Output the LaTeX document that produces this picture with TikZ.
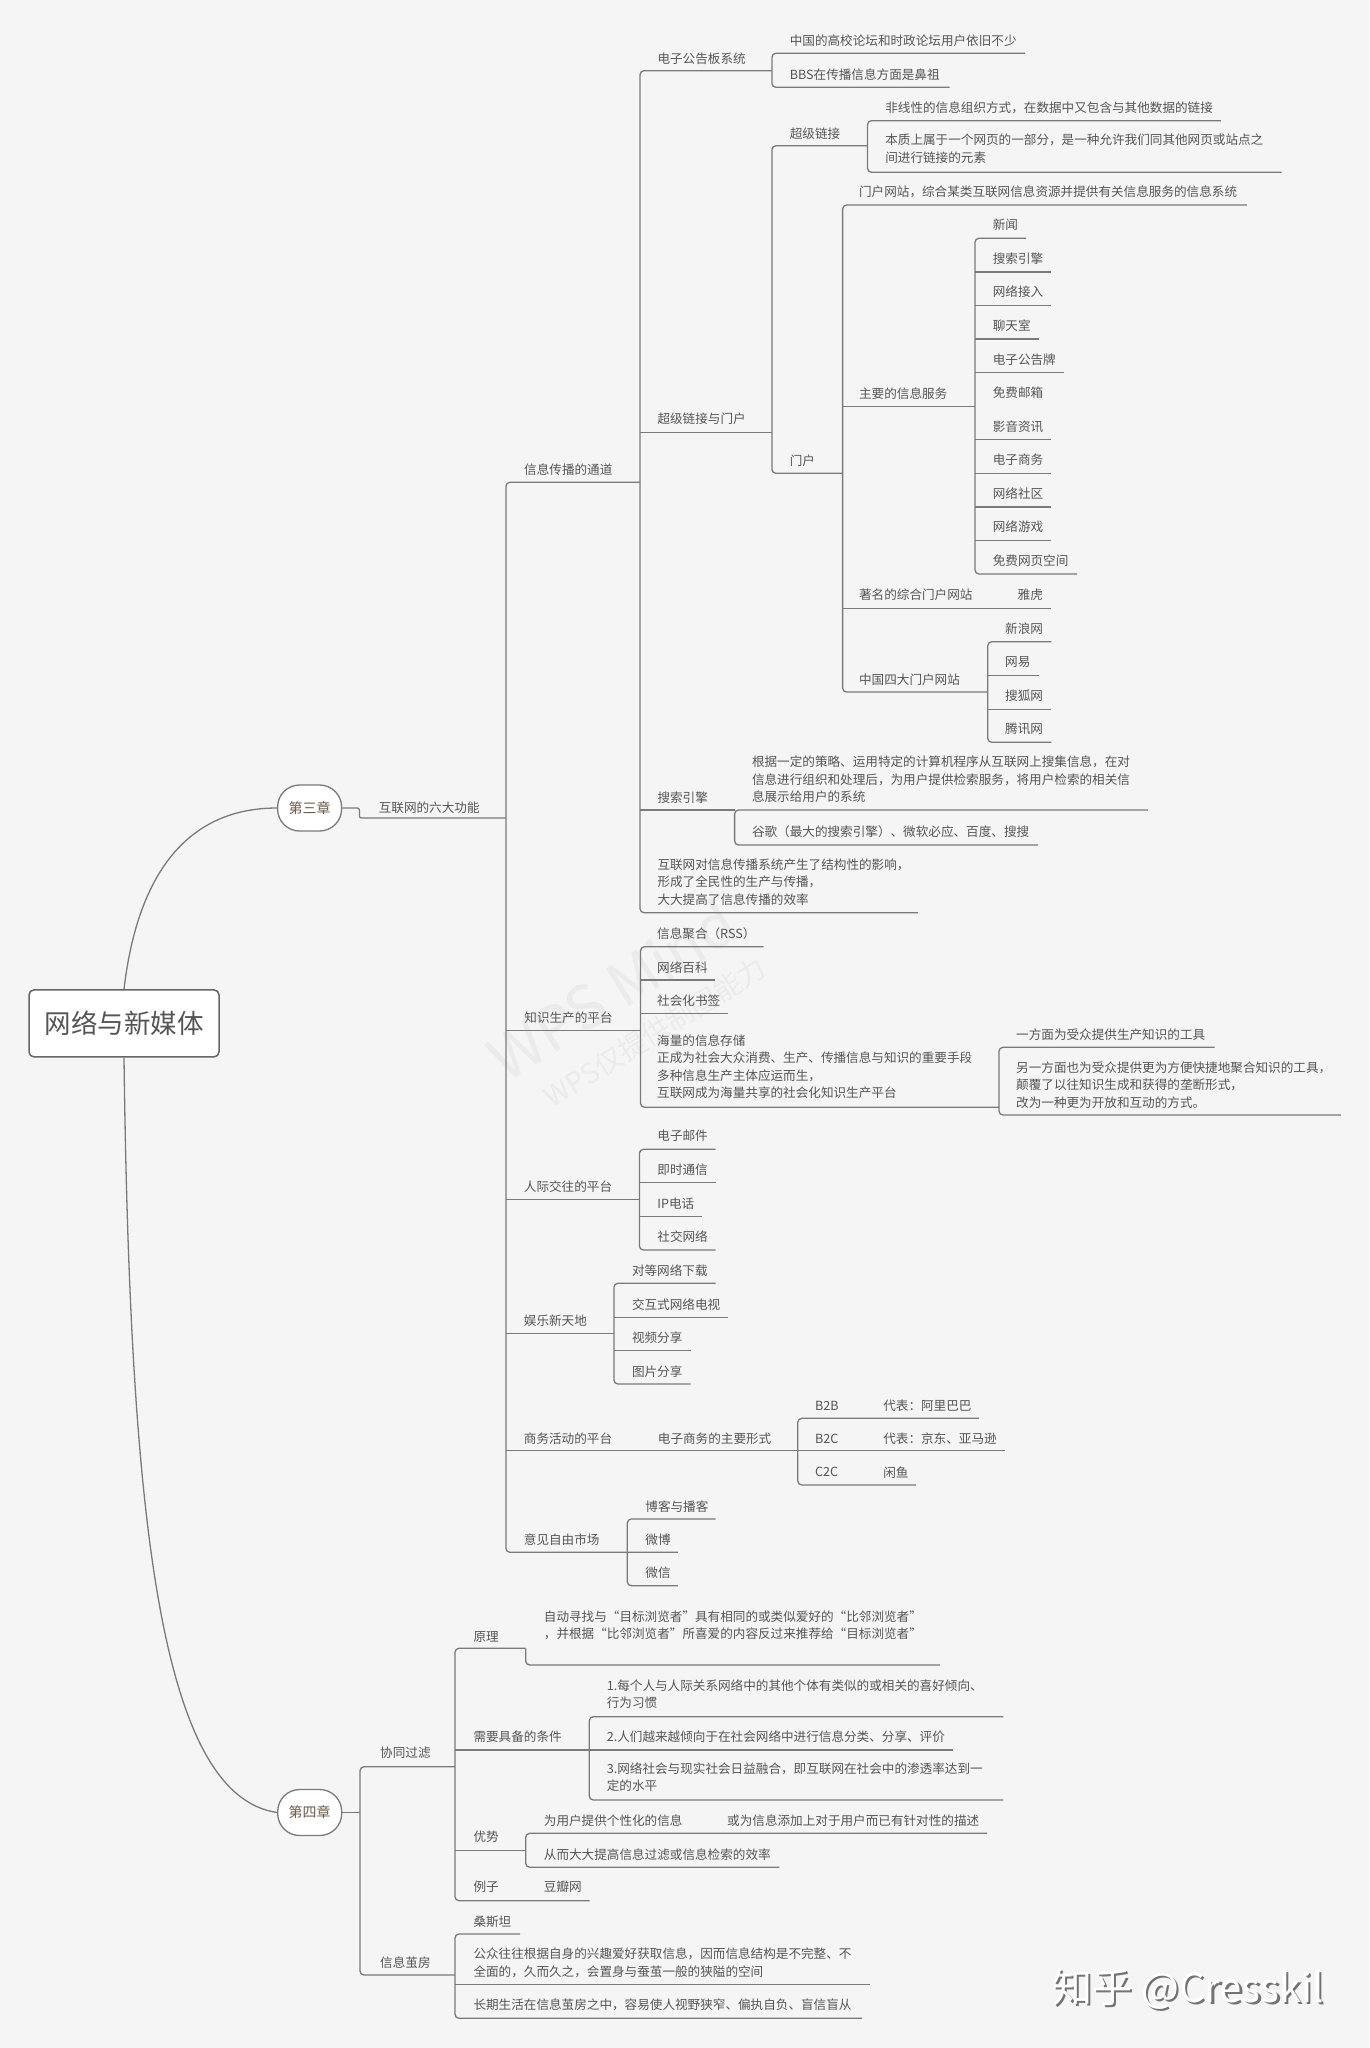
\documentclass[tikz,border=0pt]{standalone}
\usepackage{fontspec}
\setmainfont{Noto Sans CJK SC}
\definecolor{bgc}{HTML}{F5F5F5}
\definecolor{lnc}{HTML}{7A7A7A}
\definecolor{txc}{HTML}{555555}
\definecolor{chc}{HTML}{6B5848}
\tikzset{
  mmline/.style={draw=lnc, line width=1.3pt},
  mmtxt/.style={anchor=west, inner sep=0pt, text=txc, font=\fontsize{12.6}{17.5}\selectfont, align=left},
  chapbox/.style={draw=lnc, line width=1.3pt, fill=white, rounded corners=22pt, minimum width=64pt, minimum height=46pt, inner sep=0pt, text=chc, font=\fontsize{14}{14}\selectfont},
  rootbox/.style={draw=black!60, line width=1.5pt, fill=white, rounded corners=5pt, minimum width=190pt, minimum height=67pt, inner sep=0pt, text=txc, font=\fontsize{26.5}{26.5}\selectfont},
}
\newcommand{\mmT}[4]{\node[mmtxt] (#1) at (#2,#3) {#4};}
\newcommand{\mmH}[3]{\draw[mmline] (#1,#3) -- (#2,#3);}
\newcommand{\mmB}[5]{\draw[mmline, rounded corners=4pt] (#3,#2) -- (#1,#2) -- (#1,#4) -- (#5,#4);}
\begin{document}
\begin{tikzpicture}[x=1pt,y=-1pt]
\fill[bgc] (0,0) rectangle (1369,2048);
\useasboundingbox (0,0) rectangle (1369,2048);

% watermarks
\node[rotate=32, text=black!8, font=\fontsize{60}{60}\selectfont] (wm1) at (612,990) {WPS Mind};
\node[rotate=32, text=black!8, font=\fontsize{28}{28}\selectfont] (wm2) at (655,1032) {WPS仅提供制图能力};

% root and chapters
\node[rootbox] (root) at (124,1023.4) {网络与新媒体};
\node[chapbox] (c3) at (309.6,808) {第三章};
\node[chapbox] (c4) at (309.7,1812.5) {第四章};
\draw[mmline] (root.north) .. controls (138,870) and (190,808) .. (c3.west);
\draw[mmline] (root.south) .. controls (130,1520) and (160,1795) .. (c4.west);
\draw[mmline, rounded corners=2pt] (c3.east) -- (359.4,808) -- (359.4,818) -- (505.9,818);
\draw[mmline] (c4.east) -- (360,1812.5);

% ===== 第三章 =====
\mmT{f6}{378.6}{807.3}{互联网的六大功能}
\mmB{505.9}{482.3}{640}{1552.3}{677.8}
\mmH{505.9}{640.5}{1030.7}
\mmH{505.9}{639.4}{1199.3}
\mmH{505.9}{613.9}{1333.3}
\mmH{505.9}{797.8}{1450.7}

% 信息传播的通道
\mmT{xc}{524}{469.3}{信息传播的通道}
\mmB{640}{70.7}{771.9}{912.7}{918.2}
\mmH{640}{771.9}{432.3}
\mmH{640}{734.6}{810}

\mmT{bbs}{657.3}{58.3}{电子公告板系统}
\mmB{771.9}{53.3}{1025}{87.3}{949.6}
\mmT{bbs1}{789.6}{40.7}{中国的高校论坛和时政论坛用户依旧不少}
\mmT{bbs2}{789.6}{75}{BBS在传播信息方面是鼻祖}

\mmT{hp}{657.3}{419}{超级链接与门户}
\mmB{771.9}{145.7}{867.5}{473.3}{842.6}
\mmT{hl}{789.6}{133.3}{超级链接}
\mmB{867.5}{120.7}{1221}{172.3}{1281.6}
\mmT{hl1}{885.1}{107.7}{非线性的信息组织方式，在数据中又包含与其他数据的链接}
\mmT{hl2}{885.1}{148.7}{本质上属于一个网页的一部分，是一种允许我们同其他网页或站点之\\间进行链接的元素}

\mmT{mh}{789.6}{461}{门户}
\mmB{842.6}{205}{1246.8}{692}{987.8}
\mmH{842.6}{975}{406.7}
\mmH{842.6}{1051.4}{608.3}
\mmT{mh1}{858.9}{191.7}{门户网站，综合某类互联网信息资源并提供有关信息服务的信息系统}
\mmT{mh2}{858.9}{393.3}{主要的信息服务}
\mmB{975}{238.3}{1026}{574}{1077.2}
\mmH{975}{1051.4}{271.9}
\mmH{975}{1051.4}{305.4}
\mmH{975}{1039}{339}
\mmH{975}{1064.3}{372.6}
\mmH{975}{1051.4}{439.7}
\mmH{975}{1051.4}{473.3}
\mmH{975}{1051.4}{506.9}
\mmH{975}{1051.4}{540.4}
\mmT{s1}{992.6}{225}{新闻}
\mmT{s2}{992.6}{258.6}{搜索引擎}
\mmT{s3}{992.6}{292.1}{网络接入}
\mmT{s4}{992.6}{325.7}{聊天室}
\mmT{s5}{992.6}{359.3}{电子公告牌}
\mmT{s6}{992.6}{392.9}{免费邮箱}
\mmT{s7}{992.6}{426.4}{影音资讯}
\mmT{s8}{992.6}{460}{电子商务}
\mmT{s9}{992.6}{493.6}{网络社区}
\mmT{s10}{992.6}{527.1}{网络游戏}
\mmT{s11}{992.6}{560.7}{免费网页空间}
\mmT{mh3}{858.9}{595}{著名的综合门户网站}
\mmT{yh}{1017.5}{595}{雅虎}
\mmT{mh4}{858.9}{679.3}{中国四大门户网站}
\mmB{987.8}{641.7}{1051.4}{742.3}{1051.4}
\mmH{987.8}{1039}{675.3}
\mmH{987.8}{1051.4}{709.3}
\mmT{p1}{1005}{628.3}{新浪网}
\mmT{p2}{1005}{662.3}{网易}
\mmT{p3}{1005}{696}{搜狐网}
\mmT{p4}{1005}{729.3}{腾讯网}

\mmT{se}{657.3}{797.7}{搜索引擎}
\mmB{734.6}{810}{1147.9}{845}{1038}
\mmT{se1}{751.8}{779.3}{根据一定的策略、运用特定的计算机程序从互联网上搜集信息，在对\\信息进行组织和处理后，为用户提供检索服务，将用户检索的相关信\\息展示给用户的系统}
\mmT{se2}{751.8}{831.7}{谷歌（最大的搜索引擎）、微软必应、百度、搜搜}
\mmT{xc4}{657.3}{881.7}{互联网对信息传播系统产生了结构性的影响，\\形成了全民性的生产与传播，\\大大提高了信息传播的效率}

% 知识生产的平台
\mmT{zs}{524.2}{1017.3}{知识生产的平台}
\mmB{640.5}{946.7}{763.5}{1107.3}{999}
\mmH{640.5}{715.3}{980}
\mmH{640.5}{728.4}{1013.3}
\mmT{zs1}{657}{933.3}{信息聚合（RSS）}
\mmT{zs2}{657}{967.3}{网络百科}
\mmT{zs3}{657}{1000.7}{社会化书签}
\mmT{zs4}{657}{1066.5}{海量的信息存储\\正成为社会大众消费、生产、传播信息与知识的重要手段\\多种信息生产主体应运而生，\\互联网成为海量共享的社会化知识生产平台}
\mmB{999}{1047.3}{1214.5}{1115}{1341}
\mmT{zs41}{1016}{1035}{一方面为受众提供生产知识的工具}
\mmT{zs42}{1016}{1084.8}{另一方面也为受众提供更为方便快捷地聚合知识的工具，\\颠覆了以往知识生成和获得的垄断形式，\\改为一种更为开放和互动的方式。}

% 人际交往的平台
\mmT{rj}{523.7}{1186.7}{人际交往的平台}
\mmB{639.4}{1149.3}{715.7}{1250}{715.7}
\mmH{639.4}{715.7}{1182.3}
\mmH{639.4}{702.3}{1216.7}
\mmT{rj1}{657.2}{1135.7}{电子邮件}
\mmT{rj2}{657.2}{1169.5}{即时通信}
\mmT{rj3}{657.2}{1203.5}{IP电话}
\mmT{rj4}{657.2}{1236.7}{社交网络}

% 娱乐新天地
\mmT{yl}{523.7}{1321}{娱乐新天地}
\mmB{613.9}{1283.3}{715.7}{1384}{690.7}
\mmH{613.9}{728.2}{1317.3}
\mmH{613.9}{690.7}{1350.7}
\mmT{yl1}{631.8}{1270.7}{对等网络下载}
\mmT{yl2}{631.8}{1304.3}{交互式网络电视}
\mmT{yl3}{631.8}{1337.7}{视频分享}
\mmT{yl4}{631.8}{1371.2}{图片分享}

% 商务活动的平台
\mmT{sw}{523.7}{1439}{商务活动的平台}
\mmT{sw1}{657.7}{1439}{电子商务的主要形式}
\mmB{797.8}{1418.3}{979}{1485}{916}
\mmH{797.8}{1004.5}{1450.7}
\mmT{b2b}{814.8}{1405.5}{B2B}
\mmT{b2bx}{883.1}{1405.5}{代表：阿里巴巴}
\mmT{b2c}{814.8}{1438.5}{B2C}
\mmT{b2cx}{883.1}{1438.5}{代表：京东、亚马逊}
\mmT{c2c}{814.8}{1472.2}{C2C}
\mmT{c2cx}{883.1}{1472.2}{闲鱼}

% 意见自由市场
\mmT{yj}{523.7}{1539.3}{意见自由市场}
\mmB{627.3}{1519}{715.7}{1585.7}{677.8}
\mmT{yj1}{645.2}{1506.2}{博客与播客}
\mmT{yj2}{645.2}{1539.3}{微博}
\mmT{yj3}{645.2}{1572.7}{微信}

% ===== 第四章 =====
\mmB{360}{1766.7}{455}{1975}{455}
\mmT{xt}{380}{1752.3}{协同过滤}
\mmT{jf}{380}{1963}{信息茧房}

\mmB{455}{1648.3}{525.7}{1900.7}{589.6}
\mmH{455}{589.3}{1750}
\mmH{455}{525.7}{1850.7}
\mmT{yl_}{473.3}{1636.7}{原理}
\draw[mmline, rounded corners=4pt] (525.7,1648.3) -- (525.7,1665) -- (940,1665);
\mmT{yl_1}{543.7}{1625.5}{自动寻找与“目标浏览者”具有相同的或类似爱好的“比邻浏览者”\\，并根据“比邻浏览者”所喜爱的内容反过来推荐给“目标浏览者”}

\mmT{tj}{473.3}{1736.7}{需要具备的条件}
\mmB{589.3}{1716.7}{1003.4}{1800}{1003.4}
\mmH{589.3}{953.4}{1750}
\mmT{tj1}{606.6}{1694.3}{1.每个人与人际关系网络中的其他个体有类似的或相关的喜好倾向、\\行为习惯}
\mmT{tj2}{606.6}{1736.7}{2.人们越来越倾向于在社会网络中进行信息分类、分享、评价}
\mmT{tj3}{606.6}{1777}{3.网络社会与现实社会日益融合，即互联网在社会中的渗透率达到一\\定的水平}

\mmT{ys}{473.3}{1836.7}{优势}
\mmB{525.7}{1833.3}{987}{1867.3}{779.4}
\mmT{ys1}{543.7}{1820.7}{为用户提供个性化的信息}
\mmT{ys2}{727}{1820.7}{或为信息添加上对于用户而已有针对性的描述}
\mmT{ys3}{543.7}{1854.3}{从而大大提高信息过滤或信息检索的效率}

\mmT{lz}{473.3}{1887}{例子}
\mmT{lz1}{543.7}{1887}{豆瓣网}

\mmB{455}{1934}{520}{2018.3}{862}
\mmH{455}{870}{1984.3}
\mmT{jf1}{473.3}{1921.5}{桑斯坦}
\mmT{jf2}{473.3}{1962.7}{公众往往根据自身的兴趣爱好获取信息，因而信息结构是不完整、不\\全面的，久而久之，会置身与蚕茧一般的狭隘的空间}
\mmT{jf3}{473.3}{2004.7}{长期生活在信息茧房之中，容易使人视野狭窄、偏执自负、盲信盲从}

% corner watermark
\node[text=black!55, font=\fontsize{40}{40}\selectfont, anchor=center] (zh0) at (1190.5,1991.5) {知乎 @Cresskil};
\node[text=white, font=\fontsize{40}{40}\selectfont, anchor=center] (zh) at (1188,1989) {知乎 @Cresskil};
\end{tikzpicture}
\end{document}
